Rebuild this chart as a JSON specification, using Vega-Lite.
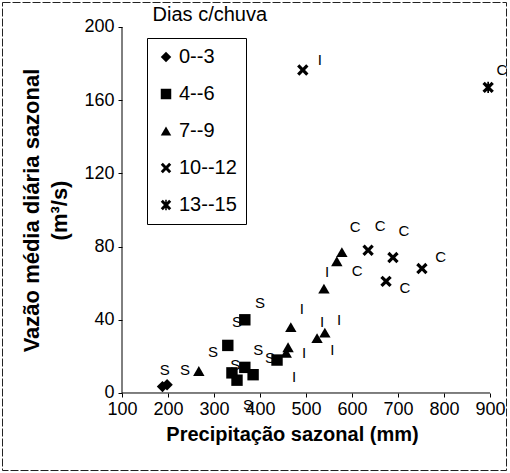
{
  "$schema": "https://vega.github.io/schema/vega-lite/v6.json",
  "width": 504,
  "height": 468,
  "autosize": {"type": "none"},
  "padding": {"left": 2, "top": 2, "right": 4, "bottom": 3},
  "background": "white",
  "config": {
    "font": "Liberation Sans",
    "view": {"stroke": "#222222", "strokeWidth": 1, "strokeDash": [8, 2]},
    "axis": {
      "grid": false,
      "domain": false,
      "tickColor": "black",
      "labelColor": "black",
      "titleColor": "black",
      "labelFont": "Liberation Sans",
      "labelFontSize": 18,
      "titleFont": "Liberation Sans",
      "titleFontWeight": "bold",
      "tickSize": 4
    }
  },
  "datasets": {
    "points": [
      {"precip": 188, "vazao": 3.5, "dias": "0--3"},
      {"precip": 198, "vazao": 4.5, "dias": "0--3"},
      {"precip": 330, "vazao": 26, "dias": "4--6"},
      {"precip": 367, "vazao": 40, "dias": "4--6"},
      {"precip": 367, "vazao": 14, "dias": "4--6"},
      {"precip": 350, "vazao": 7, "dias": "4--6"},
      {"precip": 385, "vazao": 10, "dias": "4--6"},
      {"precip": 339, "vazao": 11, "dias": "4--6"},
      {"precip": 437, "vazao": 18, "dias": "4--6"},
      {"precip": 267, "vazao": 12, "dias": "7--9"},
      {"precip": 467, "vazao": 36, "dias": "7--9"},
      {"precip": 461, "vazao": 25, "dias": "7--9"},
      {"precip": 457, "vazao": 22, "dias": "7--9"},
      {"precip": 539, "vazao": 57, "dias": "7--9"},
      {"precip": 524, "vazao": 30, "dias": "7--9"},
      {"precip": 541, "vazao": 33, "dias": "7--9"},
      {"precip": 567, "vazao": 72, "dias": "7--9"},
      {"precip": 578, "vazao": 77, "dias": "7--9"},
      {"precip": 493, "vazao": 176.5, "dias": "10--12"},
      {"precip": 635, "vazao": 78, "dias": "10--12"},
      {"precip": 689, "vazao": 74, "dias": "10--12"},
      {"precip": 674, "vazao": 61, "dias": "10--12"},
      {"precip": 752, "vazao": 68, "dias": "10--12"},
      {"precip": 896, "vazao": 167, "dias": "13--15"}
    ],
    "labels": [
      {"precip": 193, "vazao": 12.6, "t": "S"},
      {"precip": 237, "vazao": 12.6, "t": "S"},
      {"precip": 298, "vazao": 22.4, "t": "S"},
      {"precip": 400, "vazao": 49, "t": "S"},
      {"precip": 350, "vazao": 38.8, "t": "S"},
      {"precip": 346, "vazao": 15.3, "t": "S"},
      {"precip": 396, "vazao": 23.5, "t": "S"},
      {"precip": 422, "vazao": 19, "t": "S"},
      {"precip": 374, "vazao": -6.6, "t": "S"},
      {"precip": 491, "vazao": 46, "t": "I"},
      {"precip": 572, "vazao": 40, "t": "I"},
      {"precip": 496, "vazao": 22, "t": "I"},
      {"precip": 557, "vazao": 23.5, "t": "I"},
      {"precip": 474, "vazao": 8.7, "t": "I"},
      {"precip": 546, "vazao": 66, "t": "I"},
      {"precip": 535, "vazao": 39, "t": "I"},
      {"precip": 530, "vazao": 182, "t": "I"},
      {"precip": 607, "vazao": 90.7, "t": "C"},
      {"precip": 661, "vazao": 91, "t": "C"},
      {"precip": 713, "vazao": 88.5, "t": "C"},
      {"precip": 611, "vazao": 66.7, "t": "C"},
      {"precip": 715, "vazao": 57.4, "t": "C"},
      {"precip": 793, "vazao": 74.3, "t": "C"},
      {"precip": 926, "vazao": 176.5, "t": "C"}
    ],
    "legendtitle": [
      {"precip": 291, "vazao": 206.6, "t": "Dias c/chuva"}
    ],
    "xline": [{"precip": 100, "precip2": 900, "vazao": 0}],
    "yline": [{"precip": 100, "vazao": 0, "vazao2": 200}]
  },
  "layer": [
    {
      "data": {"name": "points"},
      "mark": {"type": "point", "filled": true, "opacity": 1, "size": 130, "color": "black", "strokeWidth": 0},
      "encoding": {
        "x": {
          "field": "precip",
          "type": "quantitative",
          "scale": {"domain": [-160.9, 934.8], "nice": false, "zero": false},
          "axis": {"values": [100, 200, 300, 400, 500, 600, 700, 800, 900], "offset": -77, "labelFlush": false, "labelPadding": 3, "labelDx": 4, "title": "Precipitação sazonal (mm)", "titleFontSize": 20, "titlePadding": 6, "titleX": 290}
        },
        "y": {
          "field": "vazao",
          "type": "quantitative",
          "scale": {"domain": [-42.08, 213.66], "nice": false, "zero": false},
          "axis": {"values": [0, 40, 80, 120, 160, 200], "offset": -120, "labelPadding": 4, "title": ["Vazão média diária sazonal", "(m³/s)"], "titleFontSize": 22, "titlePadding": 12, "titleLineHeight": 28, "titleY": 208}
        },
        "shape": {
          "field": "dias",
          "type": "nominal",
          "scale": {
            "domain": ["0--3", "4--6", "7--9", "10--12", "13--15"],
            "range": [
              "diamond",
              "square",
              "triangle-up",
              "M-1,-0.6L-0.6,-1L0,-0.4L0.6,-1L1,-0.6L0.4,0L1,0.6L0.6,1L0,0.4L-0.6,1L-1,0.6L-0.4,0Z",
              "M-1,-0.6L-0.6,-1L0,-0.4L0.6,-1L1,-0.6L0.4,0L1,0.6L0.6,1L0,0.4L-0.6,1L-1,0.6L-0.4,0ZM-0.15,-1L0.15,-1L0.15,1L-0.15,1Z"
            ]
          },
          "legend": {
            "orient": "none",
            "legendX": 145,
            "legendY": 36,
            "title": null,
            "strokeColor": "black",
            "padding": 9,
            "labelFont": "Liberation Sans",
            "labelFontSize": 20,
            "labelColor": "black",
            "labelOffset": 3,
            "symbolSize": 110,
            "symbolFillColor": "black",
            "symbolStrokeColor": "black",
            "symbolStrokeWidth": 0,
            "rowPadding": 17,
            "encode": {"legend": {"update": {"strokeDash": {"value": [2, 2]}}}}
          }
        }
      }
    },
    {
      "data": {"name": "xline"},
      "mark": {"type": "rule", "color": "black", "strokeWidth": 1},
      "encoding": {
        "x": {"field": "precip", "type": "quantitative"},
        "x2": {"field": "precip2"},
        "y": {"field": "vazao", "type": "quantitative"}
      }
    },
    {
      "data": {"name": "yline"},
      "mark": {"type": "rule", "color": "black", "strokeWidth": 1},
      "encoding": {
        "x": {"field": "precip", "type": "quantitative"},
        "y": {"field": "vazao", "type": "quantitative"},
        "y2": {"field": "vazao2"}
      }
    },
    {
      "data": {"name": "labels"},
      "mark": {"type": "text", "fontSize": 15, "color": "black", "font": "Liberation Sans"},
      "encoding": {
        "x": {"field": "precip", "type": "quantitative"},
        "y": {"field": "vazao", "type": "quantitative"},
        "text": {"field": "t"}
      }
    },
    {
      "data": {"name": "legendtitle"},
      "mark": {"type": "text", "fontSize": 20, "color": "black", "font": "Liberation Sans"},
      "encoding": {
        "x": {"field": "precip", "type": "quantitative"},
        "y": {"field": "vazao", "type": "quantitative"},
        "text": {"field": "t"}
      }
    }
  ]
}
